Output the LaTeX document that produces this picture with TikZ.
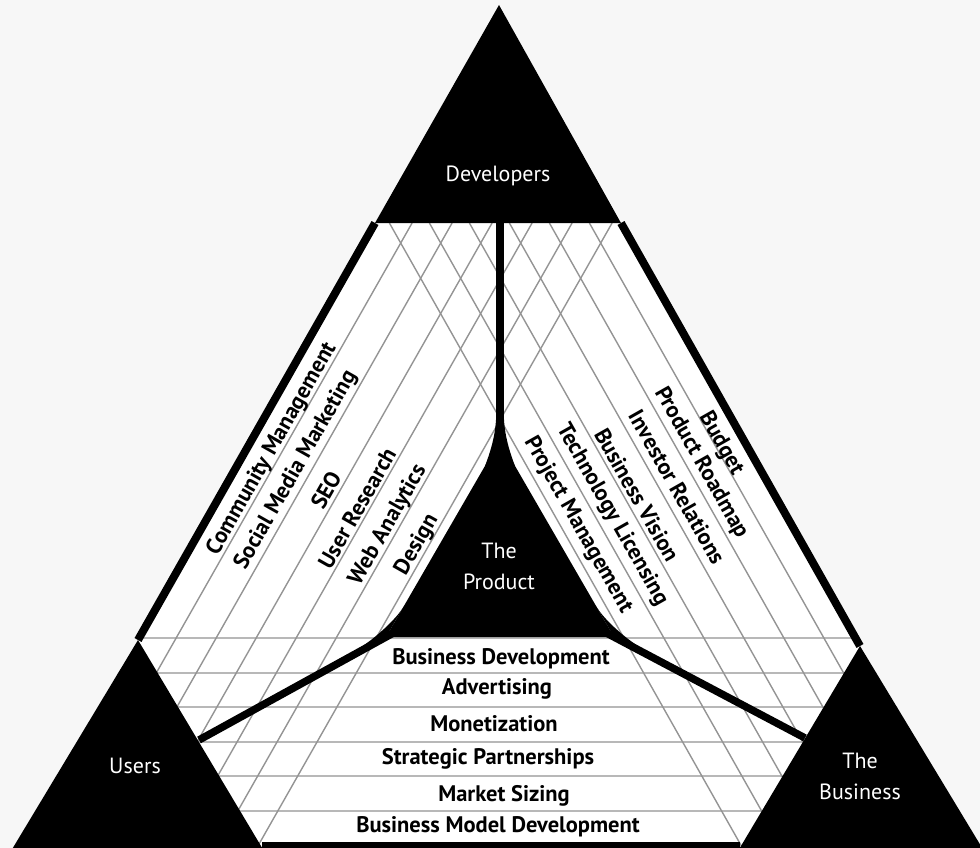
\documentclass[tikz,border=0pt]{standalone}
\usepackage{fontspec}
\setmainfont{PT Sans}
\begin{document}
\begin{tikzpicture}[x=1pt,y=-1pt,
  outer/.style={line width=8pt},
  spoke/.style={line width=7.5pt},
  gridline/.style={black!42,line width=1.4pt},
  hline/.style={black!28,line width=2pt},
  lab/.style={font=\fontsize{22.5}{24}\selectfont\bfseries,inner sep=0pt},
  llab/.style={lab,rotate=60.4},
  rlab/.style={lab,rotate=-60.5},
  wlab/.style={font=\fontsize{22}{31}\selectfont,text=white,align=center,inner sep=0pt}]
\useasboundingbox (0,0) rectangle (980,848);
\fill[black!3] (0,0) rectangle (980,848);
% key points
\coordinate (A) at (499,5);
\coordinate (DL) at (375,223);
\coordinate (DR) at (621,223);
\coordinate (Ua) at (138,640);
\coordinate (Ul) at (11,851);
\coordinate (Ur) at (264,851);
\coordinate (Ba) at (860,646);
\coordinate (Bl) at (738,851);
\coordinate (Br) at (984,851);
\coordinate (P0) at (500,440);
\coordinate (PL) at (386,637);
\coordinate (PR) at (614,637);
\coordinate (Dm) at (500,223);
\coordinate (Ls) at (399.1,629.8);
\coordinate (Rs) at (600.7,630);
\coordinate (Uj) at (199,740);
\coordinate (Bj) at (805,738);
\coordinate (Bot1) at (262,846);
\coordinate (Bot2) at (740,846);
% white interior
\fill[white] (A) -- (Ua) -- (Ul) -- (Br) -- (Ba) -- cycle;
% grid lines
\begin{scope}
\clip (A) -- (Ua) -- (Ul) -- (Br) -- (Ba) -- cycle;
\foreach \yy in {638,672.5,707,741.5,776,810.5}
  \draw[hline] (100,\yy) -- (900,\yy);
\foreach \k in {0,...,5}
  \draw[gridline] ({175+40*\k-117.1},846) -- ({175+40*\k+237.1},223);
\foreach \k in {0,...,5}
  \draw[gridline] ({825-40*\k+116.4},846) -- ({825-40*\k-235.6},223);
\end{scope}
% corner triangles
\fill (A) -- (DL) -- (DR) -- cycle;
\fill (Ua) -- (Ul) -- (Ur) -- cycle;
\fill (Ba) -- (Bl) -- (Br) -- cycle;
\draw[outer] (DL) -- (Ua);
\draw[outer] (DR) -- (Ba);
\draw[outer] (Bot1) -- (Bot2);
% product
\fill (P0) -- (PL) -- (PR) -- cycle;
\draw[spoke] (Dm) -- (P0);
\draw[spoke] (Ls) -- (Uj);
\draw[spoke] (Rs) -- (Bj);
% fillets
\fill (496.25,412) .. controls (496.25,432) and (491.5,449) .. (485,466) -- (515,466) .. controls (508.5,449) and (503.75,432) .. (503.75,412) -- cycle;
\fill (404,606) .. controls (396,620) and (372,641) .. (355,651) -- (PL) -- cycle;
\fill (596,606) .. controls (604,620) and (628,641) .. (646,651) -- (PR) -- cycle;
% white labels
\node[wlab] (dev) at (498,176) {Developers};
\node[wlab] (prod) at (499,566) {The\\Product};
\node[wlab] (users) at (135,766) {Users};
\node[wlab] (bus) at (860,776) {The\\Business};
% left labels
\node[llab] (l1) at (272,449) {Community Management};
\node[llab] (l2) at (296,470) {Social Media Marketing};
\node[llab] (l3) at (326,490) {SEO};
\node[llab] (l4) at (357,508) {User Research};
\node[llab] (l5) at (388,525) {Web Analytics};
\node[llab] (l6) at (417,545) {Design};
% right labels
\node[rlab] (r1) at (721,444) {Budget};
\node[rlab] (r2) at (701,463) {Product Roadmap};
\node[rlab] (r3) at (677,487) {Investor Relations};
\node[rlab] (r4) at (637,495) {Business Vision};
\node[rlab] (r5) at (612,515) {Technology Licensing};
\node[rlab] (r6) at (578,525) {Project Management};
% bottom labels
\node[lab] (b1) at (501,659) {Business Development};
\node[lab] (b2) at (497,689) {Advertising};
\node[lab] (b3) at (494,724) {Monetization};
\node[lab] (b4) at (488,759) {Strategic Partnerships};
\node[lab] (b5) at (504,796) {Market Sizing};
\node[lab] (b6) at (498,827) {Business Model Development};
\end{tikzpicture}
\end{document}
